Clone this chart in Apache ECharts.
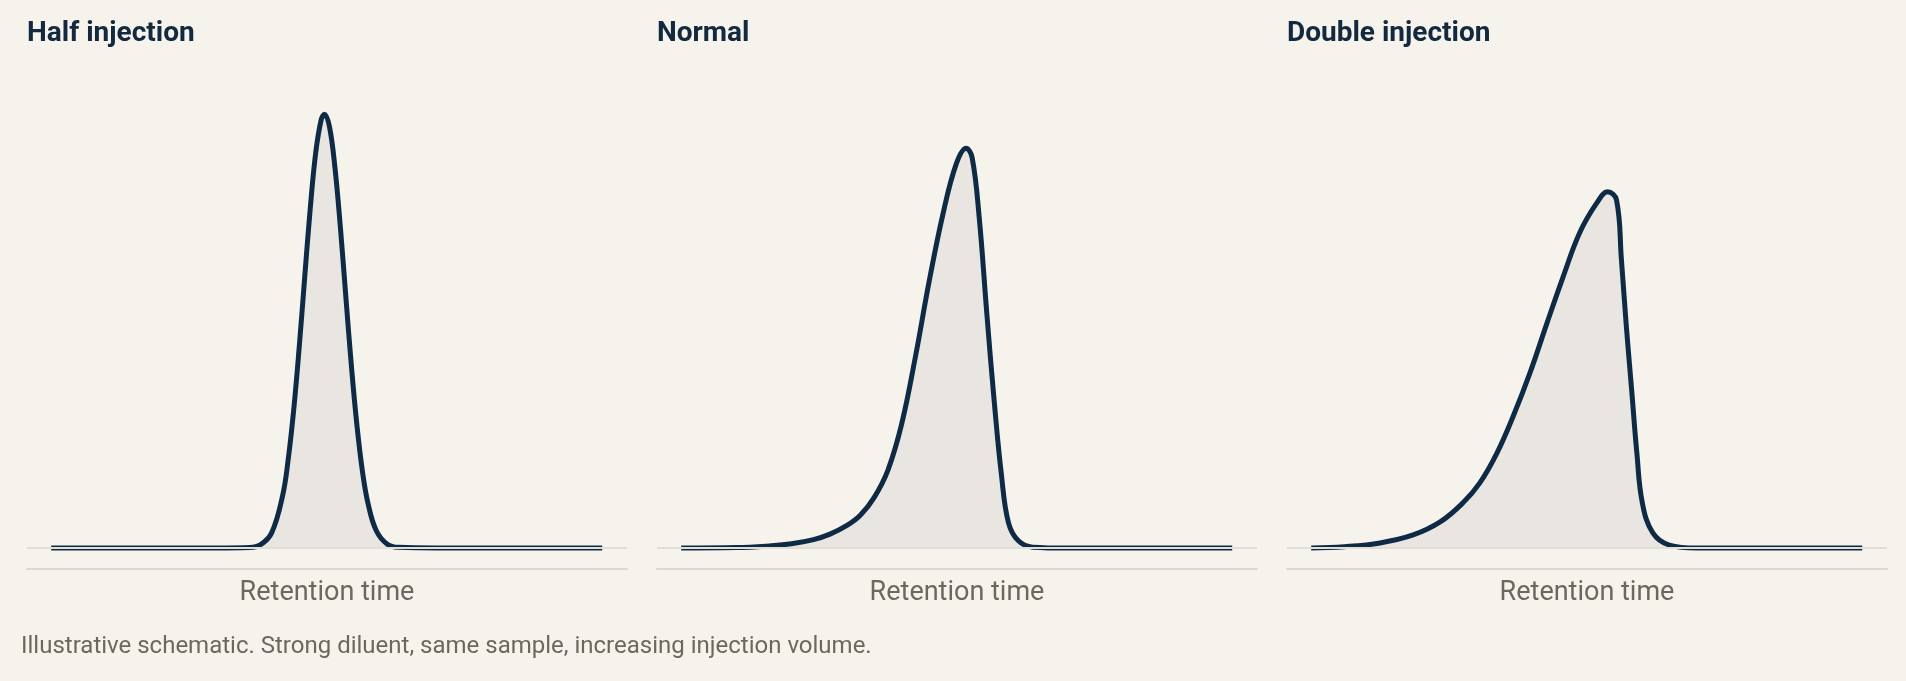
<!DOCTYPE html>
<html>
<head>
<meta charset="utf-8">
<script src="https://cdn.jsdelivr.net/npm/echarts@6/dist/echarts.min.js"></script>
<style>
html,body{margin:0;padding:0;background:#f6f3ec;}
#c{width:1906px;height:681px;}
</style>
</head>
<body>
<div id="c"></div>
<script>
const panelTitles = ['Half injection', 'Normal', 'Double injection'];
const axisName = 'Retention time';
const caption = 'Illustrative schematic. Strong diluent, same sample, increasing injection volume.';

// Half injection
const x1 = [0, 30, 36, 38, 40, 42, 43, 44, 45, 46, 47, 48, 49, 49.6, 50.5, 51.5, 52.5, 53.5, 54.5, 55.5, 56.5, 57.5, 59, 61, 63, 70, 100];
const y1 = [0, 0, 0.1, 0.8, 3.6, 12.5, 21, 32.8, 47.7, 64.4, 80.7, 94.1, 102, 103.3, 100.3, 90.5, 76, 59.3, 43, 29, 18.1, 10.6, 4.1, 0.9, 0.15, 0, 0];
// Normal
const x2 = [0, 10, 16, 20, 24, 27, 30, 32.5, 35, 37.5, 40, 42.5, 45, 47.5, 49.9, 51.7, 52.8, 54.1, 55.5, 56.8, 58.1, 59.4, 61.2, 63.8, 70, 100];
const y2 = [0, 0.1, 0.5, 1.0, 2.0, 3.3, 5.3, 7.8, 12.0, 18.5, 29.5, 45.5, 63.5, 79.5, 91.4, 95.2, 92.9, 78.4, 55.2, 35.0, 17.6, 6.0, 1.7, 0.2, 0, 0];
// Double injection
const x3 = [0, 6, 12.5, 18.5, 23.4, 27.5, 30.6, 33.7, 36.6, 39.7, 42.8, 45.7, 48.7, 51.8, 53.8, 55.4, 56.3, 57.2, 58.2, 59.1, 60.1, 62.0, 65.0, 70, 100];
const y3 = [0, 0.3, 1.2, 3.1, 6.2, 10.7, 15.5, 22.6, 31.2, 41.7, 53.6, 64.5, 75.0, 82.1, 84.8, 82.9, 68.6, 52.6, 36.9, 22.6, 10.7, 3.6, 0.7, 0, 0];

const xs = [x1, x2, x3];
const ys = [y1, y2, y3];

const chart = echarts.init(document.getElementById('c'), null, {renderer: 'canvas'});
const grids = [], xAxes = [], yAxes = [], series = [], titles = [];
for (let i = 0; i < 3; i++) {
  const left = 27 + 630 * i;
  grids.push({left: left, width: 600, top: 86, height: 483});
  xAxes.push({
    type: 'value', gridIndex: i, min: -4.4, max: 104.5,
    axisLine: {show: true, onZero: false, lineStyle: {color: '#dcd9cf', width: 2}},
    axisTick: {show: false}, axisLabel: {show: false}, splitLine: {show: false},
    name: axisName, nameLocation: 'middle', nameGap: 11,
    nameTextStyle: {color: '#6c685e', fontSize: 27, fontFamily: 'Roboto', verticalAlign: 'top'}
  });
  yAxes.push({
    type: 'value', gridIndex: i, min: -5, max: 110,
    show: false, splitLine: {show: false}
  });
  series.push({
    type: 'line', xAxisIndex: i, yAxisIndex: i,
    data: xs[i].map((x, k) => [x, ys[i][k]]),
    smooth: 0.4, showSymbol: false, symbol: 'none',
    lineStyle: {color: '#0f2a44', width: 5},
    areaStyle: {color: '#e9e6e1', opacity: 1},
    markLine: {
      silent: true, symbol: ['none', 'none'], label: {show: false},
      lineStyle: {color: '#e1ded5', width: 2, type: 'solid'},
      data: [{yAxis: 0}]
    },
    z: 2
  });
  titles.push({
    text: panelTitles[i], left: left, top: 20, padding: 0,
    textStyle: {color: '#13293f', fontSize: 28, fontWeight: 'bold', fontFamily: 'Roboto'}
  });
}

chart.setOption({
  backgroundColor: '#f6f3ec',
  animation: false,
  title: titles,
  grid: grids,
  xAxis: xAxes,
  yAxis: yAxes,
  series: series,
  graphic: [{
    type: 'text', left: 21, top: 635,
    style: {text: caption, fill: '#6c685e', font: '24px Roboto'}
  }]
});
</script>
</body>
</html>
